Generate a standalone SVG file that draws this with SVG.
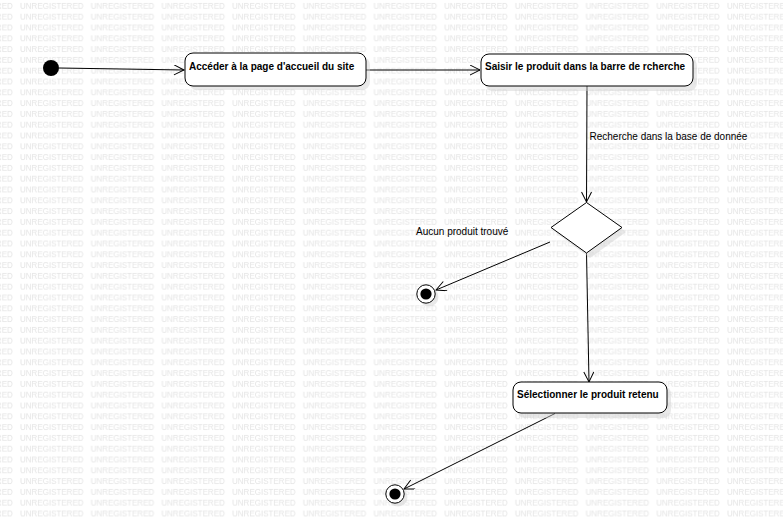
<svg xmlns="http://www.w3.org/2000/svg" width="783" height="518" viewBox="0 0 783 518">
<style>
.wm{font-family:"Liberation Sans",Arial,sans-serif;font-size:8px;fill:#e4e4e4}
.box{fill:#fff;stroke:#000;stroke-width:1}
.shadow{fill:#cfcfcf;opacity:0.45}
.ntext{font-family:"Liberation Sans",Arial,sans-serif;font-size:10px;font-weight:bold;fill:#000}
.lbl{font-family:"Liberation Sans",Arial,sans-serif;font-size:10px;fill:#000}
.edge{stroke:#000;stroke-width:1;fill:none;marker-end:url(#arr)}
</style>
<defs>
<pattern id="wmp" patternUnits="userSpaceOnUse" x="20" y="0" width="70.7" height="10.8">
<text class="wm" x="0" y="9.3">UNREGISTERED</text>
</pattern>
<marker id="arr" markerUnits="userSpaceOnUse" markerWidth="14" markerHeight="12" refX="11" refY="5" orient="auto">
<path d="M1,0 L11,5 L1,10" fill="none" stroke="#000" stroke-width="1"/>
</marker>
</defs>
<rect width="783" height="518" fill="#fff"/>
<rect width="783" height="518" fill="url(#wmp)"/>

<g id="connectors">
<line class="edge" x1="59" y1="68" x2="184" y2="70"/>
<line class="edge" x1="366" y1="70" x2="480" y2="70"/>
<line class="edge" x1="587" y1="86" x2="586.5" y2="202"/>
<line class="edge" x1="550" y1="242" x2="436" y2="290"/>
<line class="edge" x1="586.5" y1="253" x2="589" y2="382"/>
<line class="edge" x1="555" y1="413.5" x2="404" y2="489"/>
<text class="lbl" x="589.5" y="140">Recherche dans la base de donnée</text>
<text class="lbl" x="416" y="235">Aucun produit trouvé</text>
</g>

<g id="initial">
<circle cx="51" cy="68" r="8" fill="#000"/>
</g>

<g id="acceder">
<rect class="shadow" x="189" y="57" width="181" height="33" rx="8"/>
<rect class="box" x="185" y="53" width="181" height="33" rx="8"/>
<text class="ntext" x="189" y="69.5">Accéder à la page d'accueil du site</text>
</g>

<g id="saisir">
<rect class="shadow" x="485" y="58" width="212" height="33" rx="8"/>
<rect class="box" x="481" y="54" width="212" height="32" rx="8"/>
<text class="ntext" x="485" y="69.5">Saisir le produit dans la barre de rcherche</text>
</g>

<g id="decision">
<polygon class="shadow" points="590,207 626,232 590,258 555,232"/>
<polygon class="box" points="586.5,202.5 622,227.5 586.5,253 551,227.5"/>
</g>

<g id="final1">
<circle class="shadow" cx="429" cy="297" r="9.5"/>
<circle cx="426" cy="294" r="9.2" fill="#fff" stroke="#000" stroke-width="1"/>
<circle cx="426" cy="294" r="5.6" fill="#000"/>
</g>

<g id="selectionner">
<rect class="shadow" x="517" y="386" width="154" height="32" rx="8"/>
<rect class="box" x="513" y="382" width="154" height="31" rx="8"/>
<text class="ntext" x="517" y="397.5">Sélectionner le produit retenu</text>
</g>

<g id="final2">
<circle class="shadow" cx="398" cy="497" r="9.5"/>
<circle cx="395" cy="494" r="9.2" fill="#fff" stroke="#000" stroke-width="1"/>
<circle cx="395" cy="494" r="5.6" fill="#000"/>
</g>
</svg>
